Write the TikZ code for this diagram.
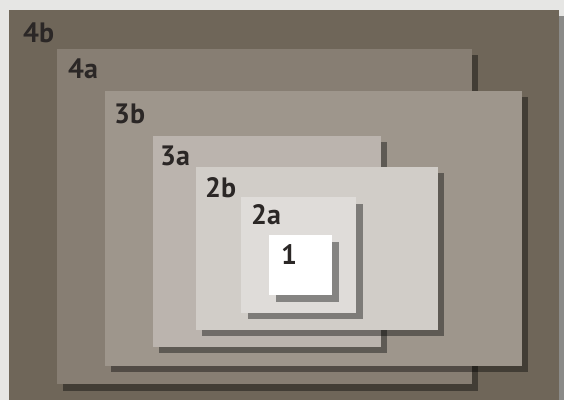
\documentclass[tikz,border=0pt]{standalone}
\usepackage{fontspec}
\setmainfont{PT Sans}
\usepackage{xcolor}
\usepackage{tikz}

\definecolor{paper}{HTML}{E6E6E4}
\definecolor{tone4b}{HTML}{6F6659}
\definecolor{tone4a}{HTML}{877E73}
\definecolor{tone3b}{HTML}{9E968C}
\definecolor{tone3a}{HTML}{BBB4AE}
\definecolor{tone2b}{HTML}{D1CDC8}
\definecolor{tone2a}{HTML}{DFDCD9}
\definecolor{labelink}{HTML}{2B2726}

\tikzset{
  shade/.style={fill=black, fill opacity=0.4},
  zonelabel/.style={anchor=base west, inner sep=0, text=labelink,
    font=\bfseries\fontsize{28}{28}\selectfont}
}

\begin{document}
\begin{tikzpicture}[x=1pt, y=-1pt]
  \fill[paper] (0,0) rectangle (564,400);
  \useasboundingbox (0,0) rectangle (564,400);
  % 4b
  \fill[shade] (15,16) rectangle (565,400);
  \fill[tone4b] (9,10) rectangle (559,400);
  \node[zonelabel] (l4b) at (23,42) {4b};
  % 4a
  \fill[shade] (63,55) rectangle (478,391);
  \fill[tone4a] (57,49) rectangle (472,384);
  \node[zonelabel] (l4a) at (68,78) {4a};
  % 3b
  \fill[shade] (111,97) rectangle (528,372);
  \fill[tone3b] (105,91) rectangle (522,366);
  \node[zonelabel] (l3b) at (114,123) {3b};
  % 3a
  \fill[shade] (159,142) rectangle (387,353);
  \fill[tone3a] (153,136) rectangle (381,347);
  \node[zonelabel] (l3a) at (160,165) {3a};
  % 2b
  \fill[shade] (202,173) rectangle (444,336);
  \fill[tone2b] (196,167) rectangle (438,330);
  \node[zonelabel] (l2b) at (205,197) {2b};
  % 2a
  \fill[shade] (248,204) rectangle (363,319);
  \fill[tone2a] (241,197) rectangle (356,313);
  \node[zonelabel] (l2a) at (251,224) {2a};
  % 1
  \fill[shade] (276,242) rectangle (339,302);
  \fill[white] (269,235) rectangle (332,295);
  \node[zonelabel] (l1) at (281,264) {1};
\end{tikzpicture}
\end{document}
